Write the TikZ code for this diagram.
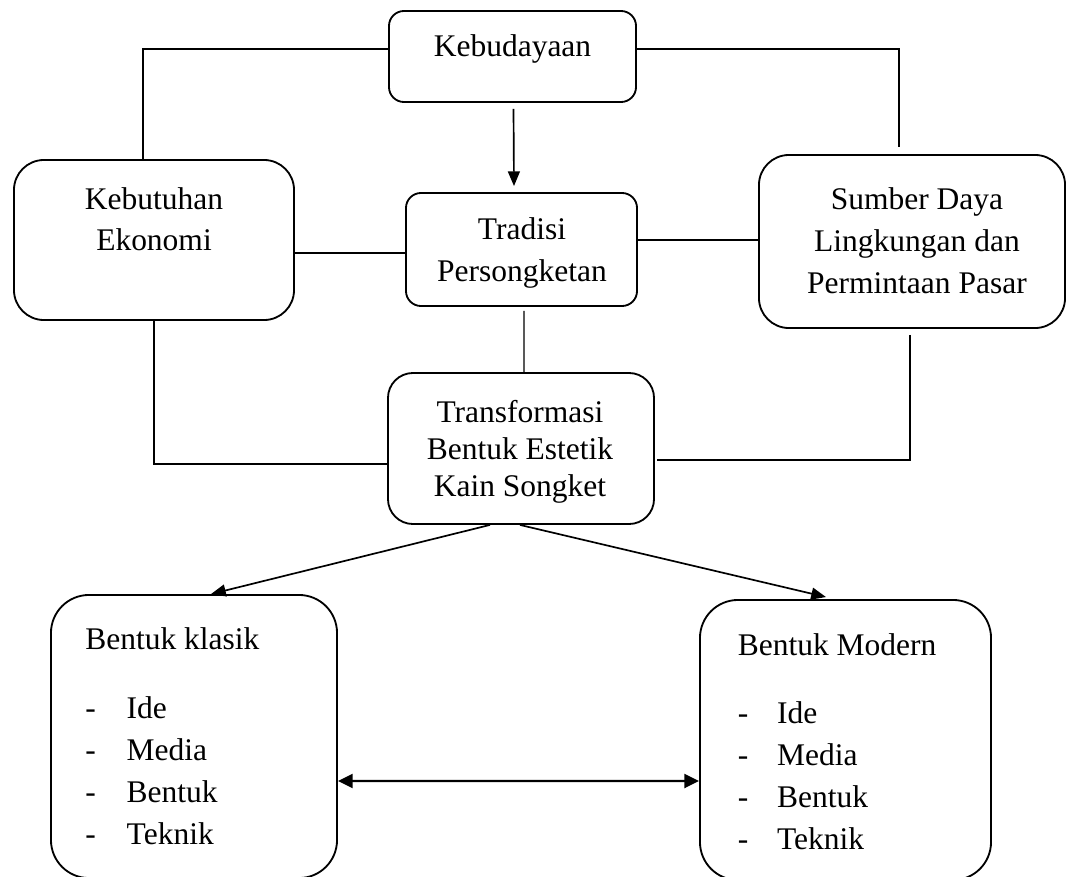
\documentclass[tikz,border=0pt]{standalone}
\usepackage{fontspec}
\setmainfont{Liberation Serif}
\usetikzlibrary{arrows.meta,calc}

\begin{document}
\begin{tikzpicture}
        [x=0.025cm, y=-0.025cm,
         font=\fontsize{22.4}{29.9}\selectfont,
         box_style/.style={draw=black, line width=1.3pt, inner sep=0pt},
         text_style/.style={align=center, inner sep=0pt},
         list_style/.style={anchor=base west, inner sep=0pt},
         edge_style/.style={draw=black, line width=1.4pt},
         arrow_style/.style={draw=black, line width=1.2pt, -{Triangle[length=10.5pt,width=8.5pt]}},
         both_style/.style={draw=black, line width=1.6pt, {Triangle[length=10.5pt,width=10pt]}-{Triangle[length=10.5pt,width=10pt]}}]
            \useasboundingbox (0,0) rectangle (1067,876);
            % kotak
            \node[box_style, rounded corners=0.375cm, minimum width=6.175cm, minimum height=2.275cm] (keb) at (512.5,56.5) {};
            \node[box_style, rounded corners=0.75cm, minimum width=7cm, minimum height=4cm] (eko) at (154,240) {};
            \node[box_style, rounded corners=0.375cm, minimum width=5.775cm, minimum height=2.825cm] (tra) at (521.5,249.5) {};
            \node[box_style, rounded corners=0.75cm, minimum width=7.65cm, minimum height=4.325cm] (sum) at (912,241.5) {};
            \node[box_style, rounded corners=0.625cm, minimum width=6.65cm, minimum height=3.775cm] (tf) at (521,448.5) {};
            \node[box_style, rounded corners=0.95cm, minimum width=7.15cm, minimum height=7.075cm] (kla) at (194,736.5) {};
            \node[box_style, rounded corners=0.95cm, minimum width=7.275cm, minimum height=7cm] (mod) at (845.5,740) {};
            % teks
            \node[text_style, anchor=base] (keb_t) at (512.5,56) {Kebudayaan};
            \node[text_style, font=\fontsize{22.4}{28.5}\selectfont] (eko_t) at (154,219.2) {Kebutuhan\\Ekonomi};
            \node[text_style] (tra_t) at (522,252.6) {Tradisi\\Persongketan};
            \node[text_style] (sum_t) at (917,240.7) {Sumber Daya\\Lingkungan dan\\Permintaan Pasar};
            \node[text_style, font=\fontsize{22.4}{26.3}\selectfont] (tf_t) at (520,451.6) {Transformasi\\Bentuk Estetik\\Kain Songket};
            \node[list_style] (kla_t) at (85,649) {\begin{tabular}[t]{@{}l@{}}
                Bentuk klasik\\[19.2pt]
                \makebox[29.5pt][l]{-}Ide\\
                \makebox[29.5pt][l]{-}Media\\
                \makebox[29.5pt][l]{-}Bentuk\\
                \makebox[29.5pt][l]{-}Teknik
              \end{tabular}};
            \node[list_style] (mod_t) at (737.5,655) {\begin{tabular}[t]{@{}l@{}}
                Bentuk Modern\\[18.5pt]
                \makebox[28pt][l]{-}Ide\\
                \makebox[28pt][l]{-}Media\\
                \makebox[28pt][l]{-}Bentuk\\
                \makebox[28pt][l]{-}Teknik
              \end{tabular}};
            % garis
            \draw[edge_style] ($(keb.west)+(0,-7.5)$) -| ($(eko.north)+(-11,0)$);
            \draw[edge_style] ($(keb.east)+(0,-7.5)$) -| ($(sum.north)+(-13,-7)$);
            \draw[arrow_style] ($(keb.south)+(1,6)$) -- ($(tra.north)+(-7.5,-6)$);
            \draw[edge_style] ($(eko.east)+(0,13)$) -- ($(tra.west)+(0,3.5)$);
            \draw[edge_style] ($(tra.east)+(0,-9.5)$) -- ($(sum.west)+(0,-1.5)$);
            \draw[edge_style, line width=0.8pt] ($(tra.south)+(2.5,4)$) -- ($(tf.north)+(3,0)$);
            \draw[edge_style] (eko.south) |- ($(tf.west)+(0,15.5)$);
            \draw[edge_style] ($(sum.south)+(-2,6)$) |- ($(tf.east)+(2,11.5)$);
            \draw[arrow_style] ($(tf.south)+(-31,0)$) -- ($(kla.north)+(17,0)$);
            \draw[arrow_style] ($(tf.south)+(-1,0)$) -- ($(mod.north)+(-19.5,-2)$);
            \draw[both_style] ($(kla.east)+(0,44.5)$) -- ($(mod.west)+(0,41)$);
\end{tikzpicture}
\end{document}
